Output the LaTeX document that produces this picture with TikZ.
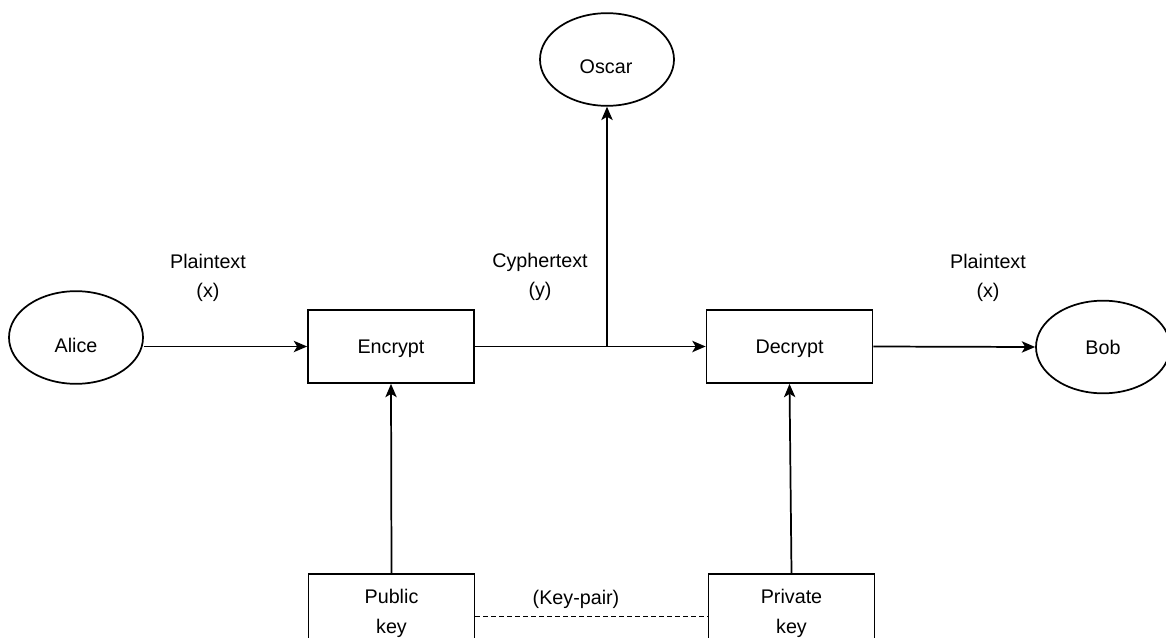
\documentclass[tikz,border=0pt]{standalone}
\usepackage{fontspec}
\setmainfont{Liberation Sans}
\usetikzlibrary{arrows.meta,shapes.geometric}
\begin{document}
\begin{tikzpicture}[x=0.75pt,y=-0.75pt,
  every node/.style={font=\fontsize{14.8}{22}\selectfont, align=center, inner sep=0pt},
  actor/.style={draw, ellipse, line width=1.3pt, minimum width=100.5pt, minimum height=69.5pt},
  stepbox/.style={draw, rectangle, line width=1.3pt, minimum width=124.5pt, minimum height=54.75pt, text depth=0pt},
  keybox/.style={stepbox, minimum height=64pt},
  conn/.style={line width=1.3pt, -{Stealth[length=10pt,width=8.5pt,inset=2.5pt]}},
  pairline/.style={line width=1.3pt, dash pattern=on 3.5pt off 2.5pt}]
\useasboundingbox (0,0) rectangle (1166,638);

% actors
\node[actor] (alice) at (76,337.5) {};
\node (alicetext) at (76,345) {Alice};
\node[actor] (oscar) at (607,59.5) {};
\node (oscartext) at (606,67) {Oscar};
\node[actor] (bob) at (1103,347) {Bob};

% process boxes
\node[stepbox] (encrypt) at (391,346.5) {Encrypt};
\node[stepbox] (decrypt) at (789.5,346.5) {Decrypt};
\node[keybox] (public) at (391.5,616.5) {};
\node (publictext) at (391.5,613.5) {Public\\key};
\node[keybox] (private) at (791.5,616.5) {};
\node (privatetext) at (791.5,613.5) {Private\\key};

% labels
\node (pt1) at (208,278) {Plaintext\\(x)};
\node (ct) at (540,277) {Cyphertext\\(y)};
\node (pt2) at (988,278) {Plaintext\\(x)};
\node (kp) at (576,599) {(Key-pair)};

% connectors
\coordinate (split) at (oscar.south |- encrypt.east);
\draw[conn] (alice.east |- encrypt.west) -- (encrypt.west);
\draw[conn] (encrypt.east) -- (decrypt.west);
\draw[conn] (split) -- (oscar.south);
\draw[conn] (decrypt.east) -- (bob.west);
\draw[conn] (public.north) -- (encrypt.south);
\draw[conn] (private.north) -- (decrypt.south);
\draw[pairline] (public.east) -- (private.west);
\end{tikzpicture}
\end{document}
